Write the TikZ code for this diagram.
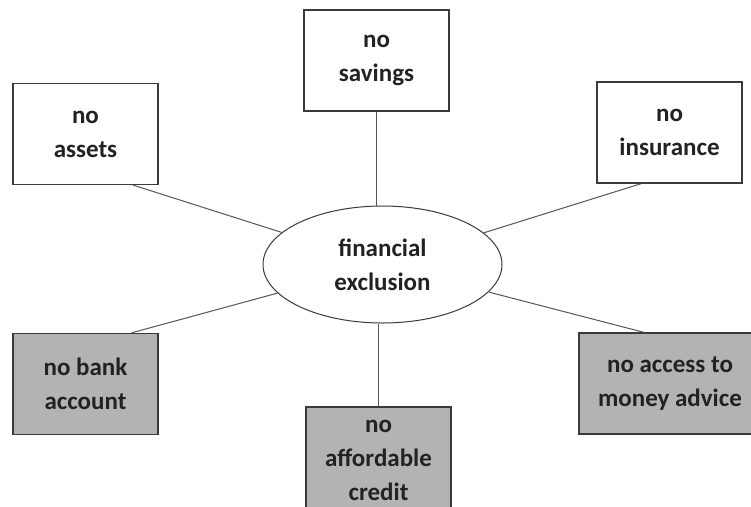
\documentclass[tikz,border=0pt]{standalone}
\usepackage{fontspec}
\setmainfont{Carlito}
\usetikzlibrary{shapes.geometric}

\definecolor{boxline}{HTML}{3A3A3A}
\definecolor{spoke}{HTML}{555555}
\definecolor{boxgrey}{HTML}{B3B3B3}
\definecolor{inkgrey}{HTML}{222222}

\tikzset{
  label text/.style={font=\bfseries\fontsize{25}{34}\selectfont, text=inkgrey, align=center},
  factor/.style={label text, draw=boxline, line width=1.3pt, fill=white,
    minimum width=145pt, minimum height=101pt, inner sep=0pt},
  lacking/.style={factor, fill=boxgrey},
  hub/.style={label text, ellipse, draw=boxline, line width=1pt, fill=white,
    minimum width=239pt, minimum height=117pt, inner sep=0pt},
  link/.style={draw=spoke, line width=1pt}
}

\begin{document}
\begin{tikzpicture}[x=1pt,y=-1pt]
    \clip (0,0) rectangle (751,506);
    \node[hub] (excl) at (382.5,264.5) {financial\\exclusion};
    \node[factor] (savings) at (376.5,60.5) {no\\savings};
    \node[factor] (assets) at (85.5,134) {no\\assets};
    \node[factor] (insur) at (669.5,132.5) {no\\insurance};
    \node[lacking] (bank) at (85.5,384) {no bank\\account};
    \node[lacking, minimum height=106pt] (credit) at (378.5,460) {no\\affordable\\credit};
    \node[lacking, minimum width=182pt] (advice) at (670,383.5) {no access to\\money advice};
    % spokes out of the ellipse
    \draw[link] (savings.south) -- (savings.south |- excl.north);
    \draw[link] (credit.north) -- (credit.north |- excl.south);
    \draw[link] (assets.-47) -- (excl);
    \draw[link] (insur.-119) -- (excl);
    \draw[link] (bank.48) -- (excl);
    \draw[link] (advice.117) -- (excl);
\end{tikzpicture}
\end{document}
